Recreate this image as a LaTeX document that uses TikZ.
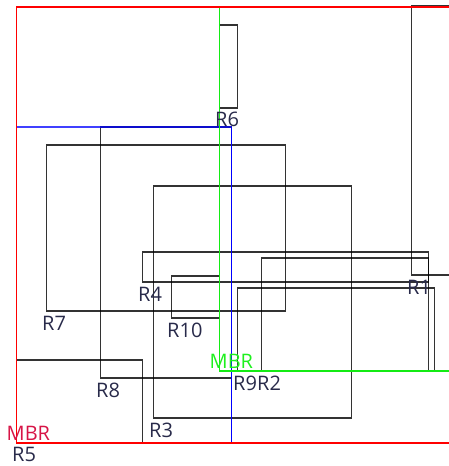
\documentclass[tikz,border=0pt]{standalone}
\usepackage{fontspec}
\setmainfont{Open Sans}
\definecolor{lblnavy}{RGB}{40,42,74}
\definecolor{mbrred}{RGB}{215,20,70}
\definecolor{mbrgreen}{RGB}{30,240,30}
\begin{document}
\begin{tikzpicture}[x=1bp,y=-1bp,
  rrect/.style={draw=black,draw opacity=0.8,line width=1.1bp},
  redmbr/.style={draw=red,line width=1.1bp},
  greenmbr/.style={draw={rgb,255:red,20;green,235;blue,20},line width=1.1bp},
  bluembr/.style={draw=blue,draw opacity=0.75,line width=1.1bp},
  vfix/.style={line width=1.8bp},
  rlabel/.style={anchor=base west,inner sep=0pt,text=lblnavy,font=\fontsize{20bp}{20bp}\selectfont},
  mlabel/.style={anchor=base west,inner sep=0pt,font=\fontsize{20bp}{20bp}\selectfont}]
\useasboundingbox (0,0) rectangle (449,466);
\clip (0,0) rectangle (449,466);
\begin{scope}[shift={(0.5,0)}]
% R rectangles
\draw[rrect] (411,6) rectangle (470,275);
\coordinate (c1) at (411,275);
\draw[rrect] (261,258) rectangle (428,371);
\coordinate (c2) at (261,371);
\draw[rrect] (153,186) rectangle (351,418);
\coordinate (c3) at (153,418);
\draw[rrect] (142,252) rectangle (428,282);
\coordinate (c4) at (142,282);
\draw[rrect] (16,360) rectangle (142,443);
\coordinate (c5) at (16,443);
\draw[rrect] (219,25) rectangle (237,108);
\coordinate (c6) at (219,108);
\draw[rrect] (46,145) rectangle (285,311);
\coordinate (c7) at (46,311);
\draw[rrect] (100,127) rectangle (231,378);
\coordinate (c8) at (100,378);
\draw[rrect] (237,288) rectangle (434,371);
\coordinate (c9) at (237,371);
\draw[rrect] (171,276) rectangle (219,318);
\coordinate (c10) at (171,318);
% MBRs
\draw[bluembr] (16,127) rectangle (231,443);
\draw[draw=blue,vfix] (231,127.6) -- (231,442.4);
\draw[greenmbr] (219,7) rectangle (470,371);
\draw[greenmbr,draw opacity=1,vfix] (219,7.6) -- (219,370.4);
\coordinate (gm) at (219,371);
\draw[redmbr] (16,7) rectangle (470,443);
\coordinate (rm) at (16,443);
\end{scope}
% labels
\node[rlabel] (l1) at ([shift={(-4.5,19)}]c1) {R1};
\node[rlabel] (l2) at ([shift={(-4.5,19)}]c2) {R2};
\node[rlabel] (l3) at ([shift={(-4.5,19)}]c3) {R3};
\node[rlabel] (l4) at ([shift={(-4.5,19)}]c4) {R4};
\node[rlabel] (l5) at ([shift={(-4.5,18.5)}]c5) {R5};
\node[rlabel] (l6) at ([shift={(-4.5,19)}]c6) {R6};
\node[rlabel] (l7) at ([shift={(-4.5,19)}]c7) {R7};
\node[rlabel] (l8) at ([shift={(-4.5,19)}]c8) {R8};
\node[rlabel] (l9) at ([shift={(-4.5,19)}]c9) {R9};
\node[rlabel] (l10) at ([shift={(-4.5,19)}]c10) {R10};
\node[mlabel,text=mbrgreen] (mg) at ([shift={(-10,-2.5)}]gm) {MBR};
\node[mlabel,text=mbrred] (mr) at ([shift={(-10,-2.5)}]rm) {MBR};
\end{tikzpicture}
\end{document}
